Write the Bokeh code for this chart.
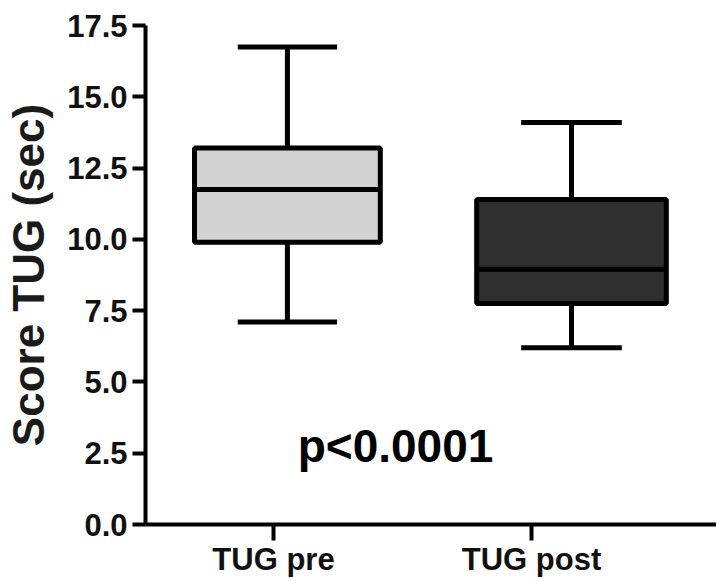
from bokeh.plotting import figure
from bokeh.models import Range1d, FixedTicker, NumeralTickFormatter, Label, ColumnDataSource
from bokeh.embed import file_html
from bokeh.resources import INLINE

# ---- data ----
groups = ["TUG pre", "TUG post"]
lower_whisker = [7.1, 6.2]
q1 = [9.9, 7.75]
median = [11.75, 8.95]
q3 = [13.2, 11.4]
upper_whisker = [16.75, 14.1]
y_ticks = [0.0, 2.5, 5.0, 7.5, 10.0, 12.5, 15.0, 17.5]
y_title = "Score TUG (sec)"
p_text = "p<0.0001"

# ---- layout / style constants ----
tick_pos = [1, 2]
box_shift = [0.054, 0.155]
box_width = [0.72, 0.735]
cap_width = [0.385, 0.39]
fills = ["#d3d3d3", "#2f2f2f"]
FONT = "Liberation Sans"

centers = [t + s for t, s in zip(tick_pos, box_shift)]
src = ColumnDataSource(dict(
    x=centers,
    left=[c - w / 2 for c, w in zip(centers, box_width)],
    right=[c + w / 2 for c, w in zip(centers, box_width)],
    cap_l=[c - w / 2 for c, w in zip(centers, cap_width)],
    cap_r=[c + w / 2 for c, w in zip(centers, cap_width)],
    lo=lower_whisker, q1=q1, med=median, q3=q3, hi=upper_whisker, fill=fills,
))

p = figure(width=716, height=580, output_backend="svg", toolbar_location=None,
           x_range=Range1d(0.504, 2.717), y_range=Range1d(0, 17.5),
           min_border_left=145, min_border_right=0, min_border_top=25, min_border_bottom=56)
p.outline_line_color = None
p.grid.visible = False
p.background_fill_color = "white"

LW = 5
# whisker stems
p.segment(x0="x", y0="q3", x1="x", y1="hi", source=src, line_color="black", line_width=LW)
p.segment(x0="x", y0="lo", x1="x", y1="q1", source=src, line_color="black", line_width=LW)
# caps
p.segment(x0="cap_l", y0="hi", x1="cap_r", y1="hi", source=src, line_color="black", line_width=LW)
p.segment(x0="cap_l", y0="lo", x1="cap_r", y1="lo", source=src, line_color="black", line_width=LW)
# boxes
p.quad(left="left", right="right", bottom="q1", top="q3", source=src,
       fill_color="fill", line_color="black", line_width=LW)
# medians
p.segment(x0="left", y0="med", x1="right", y1="med", source=src, line_color="black", line_width=LW)

# axes
for ax in (p.xaxis[0], p.yaxis[0]):
    ax.axis_line_width = 4
    ax.axis_line_color = "black"
    ax.major_tick_line_width = 4
    ax.major_tick_line_color = "black"
    ax.major_tick_in = 0
    ax.minor_tick_line_color = None
    ax.major_label_text_font = FONT
    ax.major_label_text_font_style = "bold"
    ax.major_label_text_color = "#111111"

p.xaxis.ticker = FixedTicker(ticks=tick_pos)
p.xaxis.major_label_overrides = {t: g for t, g in zip(tick_pos, groups)}
p.xaxis.major_tick_out = 16
p.xaxis.major_label_standoff = 1
p.xaxis.major_label_text_font_size = "31px"

p.yaxis.ticker = FixedTicker(ticks=y_ticks)
p.yaxis.formatter = NumeralTickFormatter(format="0.0")
p.yaxis.major_tick_out = 13
p.yaxis.major_label_standoff = 5
p.yaxis.major_label_text_font_size = "31px"
p.yaxis.axis_label = y_title
p.yaxis.axis_label_text_font = FONT
p.yaxis.axis_label_text_font_style = "bold"
p.yaxis.axis_label_text_font_size = "44px"
p.yaxis.axis_label_text_color = "#1a1a1a"
p.yaxis.axis_label_standoff = 11

p.add_layout(Label(x=1.473, y=2.77, text=p_text, text_align="center", text_baseline="alphabetic",
                   text_font=FONT, text_font_style="bold", text_font_size="46px", text_color="black"))

open("out.html", "w").write(file_html(p, INLINE))
